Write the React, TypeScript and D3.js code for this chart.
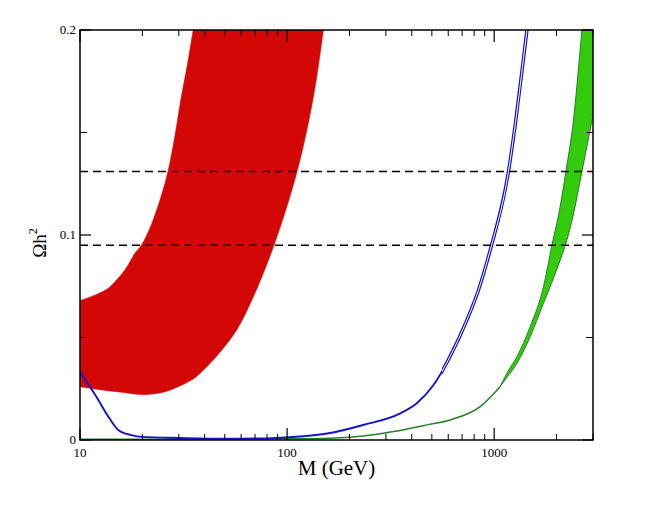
import * as d3 from "d3";

// axis ticks
const xMajorTicks = [10, 100, 1000];
const xTickLabels = ["10", "100", "1000"];
const yMajorTicks = [0, 0.1, 0.2];
const yTickLabels = ["0", "0.1", "0.2"];
const yMinorTicks = [0.05, 0.15];

// WMAP band (dashed lines)
const relicBounds = [0.095, 0.131];

// red band outline: left edge upward, then right/bottom edge back down
const redM = [
  10, 12, 13.7, 15, 16.5, 18.4, 19.8, 22.1, 24.5, 26.6, 28.7, 30.8, 33, 35.2, 38,
  160, 149.8, 134, 112.2, 86.5, 68.7, 57.1, 48.4, 42.5, 38, 34.6, 28.8, 25, 19.8, 15.6, 12, 10,
];
const redOmega = [
  0.068, 0.071, 0.074, 0.078, 0.083, 0.091, 0.095, 0.105, 0.118, 0.131, 0.148, 0.167, 0.183, 0.2, 0.22,
  0.22, 0.2, 0.1675, 0.1317, 0.0951, 0.0699, 0.0537, 0.0439, 0.0374, 0.0325, 0.0293, 0.0254, 0.0232,
  0.0222, 0.0234, 0.0248, 0.026,
];

// blue curve
const blueM = [
  10, 12, 13.7, 15.3, 17.7, 20, 30, 50, 80, 120, 159, 233, 352, 423, 509, 612, 738, 840, 957,
  1172, 1263, 1385, 1439, 1500,
];
const blueOmega = [
  0.0333, 0.0211, 0.0114, 0.0049, 0.0024, 0.0015, 0.001, 0.0006, 0.0008, 0.0018, 0.0033,
  0.0073, 0.013, 0.0179, 0.0268, 0.0407, 0.0585, 0.0732, 0.0927, 0.131, 0.1537, 0.186, 0.2, 0.215,
];

// green thin line (below ~1 TeV)
const greenLineM = [10, 50, 100, 159, 233, 345, 481, 612, 856, 1068];
const greenLineOmega = [0.0004, 0.0004, 0.0006, 0.0009, 0.002, 0.0045, 0.0075, 0.0098, 0.0163, 0.026];

// green band (above ~1 TeV)
const greenBandM = [1068, 1151, 1288, 1492, 1730, 1900, 2084, 2220, 2399, 2653, 3000];
const greenUpper = [0.026, 0.0325, 0.0407, 0.0553, 0.0748, 0.095, 0.114, 0.131, 0.1537, 0.2, 0.26];
const greenLower = [0.026, 0.0305, 0.0374, 0.0504, 0.0667, 0.077, 0.0878, 0.096, 0.109, 0.131, 0.1585];

const W = 664;
const H = 517;
const margin = { top: 30, right: 71, bottom: 77, left: 80 };
const innerW = W - margin.left - margin.right;
const innerH = H - margin.top - margin.bottom;
const FONT = "'Liberation Serif', 'Times New Roman', serif";

export default function App() {
  const x = d3.scaleLog().domain([10, 3000]).range([0, innerW]);
  const y = d3.scaleLinear().domain([0, 0.2]).range([innerH, 0]);

  const xMinorTicks = x.ticks().filter((t) => !xMajorTicks.includes(t));

  // red band: smooth outline through the read points, closed along the left axis
  const redPts = redM.map((m, i) => [m, redOmega[i]] as [number, number]);
  const redPath =
    d3
      .line<[number, number]>()
      .x((d) => x(d[0]))
      .y((d) => y(d[1]))
      .curve(d3.curveCatmullRom.alpha(0.5))(redPts) + "Z";

  const seriesLine = (ms: number[], os: number[]) =>
    d3
      .line<number>()
      .x((m) => x(m))
      .y((_, i) => y(os[i]))
      .curve(d3.curveMonotoneX)(ms) ?? "";

  const bluePath = seriesLine(blueM, blueOmega);
  const greenLinePath = seriesLine(greenLineM, greenLineOmega);

  const greenArea =
    d3
      .area<number>()
      .x((m) => x(m))
      .y0((_, i) => y(greenLower[i]))
      .y1((_, i) => y(greenUpper[i]))
      .curve(d3.curveMonotoneX)(greenBandM) ?? "";

  // the blue curve shows as a narrow double line where it climbs
  const doubleFrom = x(560);

  return (
    <svg
      width={W}
      height={H}
      style={{ position: "absolute", left: 0, top: 0, background: "#fff" }}
      fontFamily={FONT}
    >
      <defs>
        <clipPath id="plot-clip">
          <rect width={innerW} height={innerH} />
        </clipPath>
        <clipPath id="blue-double-clip">
          <rect x={doubleFrom} width={innerW - doubleFrom} height={innerH} />
        </clipPath>
      </defs>
      <g transform={`translate(${margin.left},${margin.top})`}>
        <g clipPath="url(#plot-clip)">
          {/* red band */}
          <path d={redPath} fill="#d40707" stroke="#d40707" strokeWidth={0.6} />

          {/* green */}
          <path d={greenArea} fill="#33cc0d" stroke="#2a7d2a" strokeWidth={1} />
          <path d={greenLinePath} fill="none" stroke="#2a7d2a" strokeWidth={1.5} />

          {/* blue */}
          <path d={bluePath} fill="none" stroke="#1414c8" strokeWidth={1.9} />
          <g clipPath="url(#blue-double-clip)">
            <path d={bluePath} fill="none" stroke="#1414c8" strokeWidth={3.4} />
            <path d={bluePath} fill="none" stroke="#ffffff" strokeWidth={1} />
          </g>

          {/* relic density band */}
          {relicBounds.map((v) => (
            <line
              key={v}
              x1={0}
              x2={innerW}
              y1={y(v)}
              y2={y(v)}
              stroke="#000"
              strokeWidth={1.5}
              strokeDasharray="8,5"
            />
          ))}
        </g>

        {/* ticks */}
        {xMajorTicks.map((t) => (
          <g key={`xM${t}`}>
            <line x1={x(t)} x2={x(t)} y1={innerH} y2={innerH - 12} stroke="#000" strokeWidth={1.2} />
            <line x1={x(t)} x2={x(t)} y1={0} y2={12} stroke="#000" strokeWidth={1.2} />
          </g>
        ))}
        {xMinorTicks.map((t) => (
          <g key={`xm${t}`}>
            <line x1={x(t)} x2={x(t)} y1={innerH} y2={innerH - 6} stroke="#000" strokeWidth={1} />
            <line x1={x(t)} x2={x(t)} y1={0} y2={6} stroke="#000" strokeWidth={1} />
          </g>
        ))}
        {yMajorTicks.map((t) => (
          <g key={`yM${t}`}>
            <line x1={0} x2={11} y1={y(t)} y2={y(t)} stroke="#000" strokeWidth={1.2} />
            <line x1={innerW} x2={innerW - 11} y1={y(t)} y2={y(t)} stroke="#000" strokeWidth={1.2} />
          </g>
        ))}
        {yMinorTicks.map((t) => (
          <g key={`ym${t}`}>
            <line x1={0} x2={7} y1={y(t)} y2={y(t)} stroke="#000" strokeWidth={1} />
            <line x1={innerW} x2={innerW - 7} y1={y(t)} y2={y(t)} stroke="#000" strokeWidth={1} />
          </g>
        ))}

        {/* frame */}
        <rect width={innerW} height={innerH} fill="none" stroke="#000" strokeWidth={1.5} />

        {/* tick labels */}
        {xMajorTicks.map((t, i) => (
          <text key={`xl${t}`} x={x(t)} y={innerH + 17} textAnchor="middle" fontSize={13}>
            {xTickLabels[i]}
          </text>
        ))}
        {yMajorTicks.map((t, i) => (
          <text key={`yl${t}`} x={-4} y={y(t) + 4} textAnchor="end" fontSize={13}>
            {yTickLabels[i]}
          </text>
        ))}

        {/* axis titles */}
        <text x={innerW / 2} y={innerH + 35} textAnchor="middle" fontSize={21}>
          M (GeV)
        </text>
        <text
          transform={`translate(${-34},${innerH / 2 + 8}) rotate(-90)`}
          textAnchor="middle"
          fontSize={19}
        >
          Ωh<tspan dy={-9} fontSize={12}>2</tspan>
        </text>
      </g>
    </svg>
  );
}
